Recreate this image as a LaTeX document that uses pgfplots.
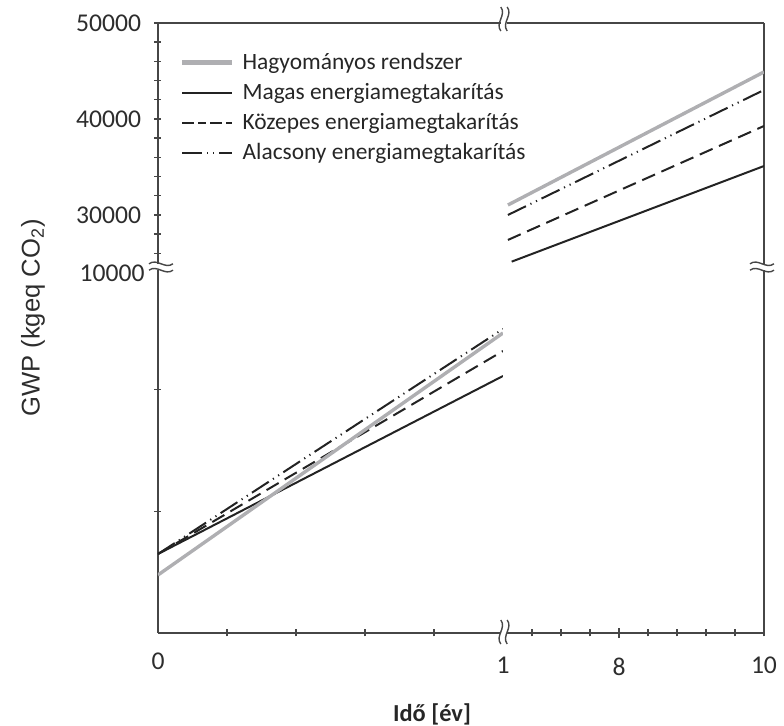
\documentclass[border=0pt]{standalone}
\usepackage{fontspec}
\setmainfont{Carlito}
\newfontfamily\arialf{Liberation Sans}
\usepackage{pgfplots}
\pgfplotsset{compat=1.18}

\definecolor{hagycol}{RGB}{175,175,178}
\definecolor{ink}{RGB}{35,35,35}
\definecolor{spine}{RGB}{70,70,70}
\definecolor{lbl}{RGB}{45,45,45}

\pgfplotsset{
  brk/.style={scale only axis, enlargelimits=false, clip=true,
    scaled x ticks=false, scaled y ticks=false,
    axis line style={spine, line width=0.9pt},
    tick style={spine, line width=0.7pt}, tick align=inside, major tick length=3.5pt,
    ticklabel style={font=\fontsize{12.8}{14}\selectfont, text=lbl, inner sep=0pt},
    xticklabel style={yshift=-10pt}, yticklabel style={xshift=-6.5pt}},
  noarr/.style={
    every outer x axis line/.append style={-}, every outer y axis line/.append style={-},
    every inner x axis line/.append style={-}, every inner y axis line/.append style={-},
    x axis line style={-}, y axis line style={-}},
  sHagy/.style={hagycol, line width=1.7pt},
  sMagas/.style={ink, line width=1pt},
  sKozep/.style={ink, line width=1pt, dash pattern=on 7pt off 3.5pt},
  sAlacs/.style={ink, line width=1pt, dash pattern=on 10pt off 2.5pt on 0.6pt off 2.5pt on 0.6pt off 2.5pt},
}

% hullamos tengelyszakadas jel
\newcommand\brkmark[3]{%
  \begin{scope}[shift={(#1,#2)}, rotate=#3]
    \fill[white] (-6pt,-1.6pt) rectangle (6pt,1.6pt);
    \draw[spine, line width=0.7pt] (-6pt,-1.6pt) .. controls (-2pt,1.4pt) and (2pt,-4.6pt) .. (6pt,-1.6pt);
    \draw[spine, line width=0.7pt] (-6pt,1.6pt) .. controls (-2pt,4.6pt) and (2pt,-1.4pt) .. (6pt,1.6pt);
  \end{scope}}

\begin{document}
\begin{tikzpicture}
\useasboundingbox (-79pt,-46.5pt) rectangle (313pt,316.5pt);

% also bal: 0..1 ev, 0..10000
\begin{axis}[brk, at={(0pt,0pt)}, anchor=south west, width=172.5pt, height=182.5pt,
  xmin=0, xmax=1, ymin=0, ymax=10000,
  axis x line=bottom, axis y line=left, noarr,
  xtick={0.2,0.4,0.6,0.8}, xticklabels={,,,},
  extra x ticks={0}, extra x tick labels={0}, extra x tick style={major tick length=0pt},
  ytick={3333.3,6666.7}, yticklabels={,},
  extra y ticks={10000}, extra y tick labels={10000},
  extra y tick style={major tick length=0pt, yticklabel style={yshift=-2.5pt}}]
\addplot[sMagas] coordinates {(0,2164) (1,7041)};
\addplot[sKozep] coordinates {(0,2164) (1,7726)};
\addplot[sAlacs] coordinates {(0,2164) (1,8329)};
\addplot[sHagy] coordinates {(0,1589) (1,8219)};
\end{axis}

% felso bal: jelmagyarazat
\begin{axis}[brk, at={(0pt,182.5pt)}, anchor=south west, width=172.5pt, height=122.5pt,
  xmin=0, xmax=1, ymin=24479, ymax=50000,
  axis x line=top, axis y line=left, noarr, xtick=\empty,
  ytick={26000,28000,...,50000}, yticklabels={,,30000,,,,,40000,,,,,50000},
  legend cell align=left,
  legend image code/.code={\draw[#1] (0pt,0pt) -- (25pt,0pt);},
  legend style={at={(0.061,0.896)}, anchor=north west, draw=none, fill=none, inner sep=0pt,
    font=\fontsize{11.7}{14}\selectfont, text=black!85, row sep=1.5pt,
    /tikz/every odd column/.append style={column sep=2pt}}]
\addlegendimage{sHagy, line width=2.6pt}
\addlegendentry{Hagyományos rendszer}
\addlegendimage{sMagas}
\addlegendentry{Magas energiamegtakarítás}
\addlegendimage{sKozep, dash pattern=on 6pt off 2pt on 4pt off 2pt}
\addlegendentry{Közepes energiamegtakarítás}
\addlegendimage{sAlacs}
\addlegendentry{Alacsony energiamegtakarítás}
\end{axis}

% also jobb: 1..10 ev
\begin{axis}[brk, at={(172.5pt,0pt)}, anchor=south west, width=130.5pt, height=182.5pt,
  xmin=1, xmax=10, ymin=0, ymax=10000,
  axis x line=bottom, axis y line=right, noarr, ytick=\empty,
  xtick={1,2,3,4,6,7,8,9,10}, xticklabels={1,,,,,,,,10},
  extra x ticks={5}, extra x tick labels={8}, extra x tick style={major tick length=5pt}]
\end{axis}

% felso jobb
\begin{axis}[brk, at={(172.5pt,182.5pt)}, anchor=south west, width=130.5pt, height=122.5pt,
  xmin=1, xmax=10, ymin=24479, ymax=50000,
  axis x line=top, axis y line=right, noarr, xtick=\empty, ytick=\empty]
\addplot[sMagas] coordinates {(1.3,25140) (10,35100)};
\addplot[sKozep] coordinates {(1.17,27400) (10,39270)};
\addplot[sAlacs] coordinates {(1.17,30000) (10,43020)};
\addplot[sHagy] coordinates {(1.17,31040) (10,44900)};
\end{axis}

\brkmark{1.5pt}{183pt}{0}
\brkmark{302pt}{183pt}{0}
\brkmark{173pt}{0.5pt}{90}
\brkmark{173pt}{307pt}{90}

\node[font=\bfseries\fontsize{12.2}{14}\selectfont, text=black!85] at (137pt,-40.5pt) {Idő [év]};
\node[font=\arialf\fontsize{12.8}{14}\selectfont, text=lbl, rotate=90] at (-62.5pt,157.5pt) {GWP (kgeq CO\textsubscript{2})};
\end{tikzpicture}
\end{document}
